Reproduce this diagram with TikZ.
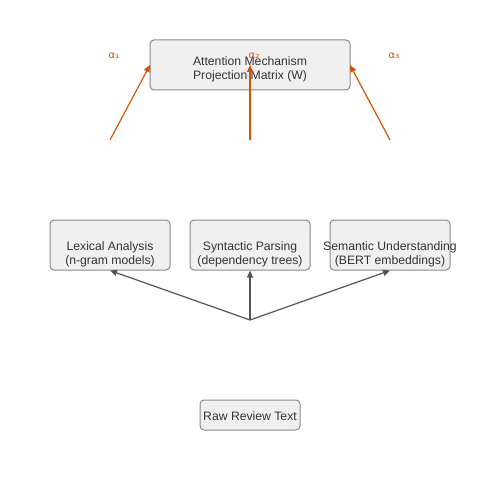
\documentclass[tikz,border=0pt]{standalone}
\usepackage{fontspec}
\setmainfont{Liberation Sans}
\newfontfamily\lblfont{DejaVu Sans}
\usetikzlibrary{arrows.meta}
\definecolor{boxfill}{HTML}{F0F0F0}
\definecolor{boxline}{HTML}{8A8A8A}
\definecolor{txt}{HTML}{333333}
\definecolor{arr}{HTML}{555555}
\definecolor{orng}{HTML}{D35400}
\tikzset{
  box/.style={draw=boxline, fill=boxfill, rounded corners=4pt, line width=1pt, inner sep=0pt},
  boxtext/.style={text=txt, font=\fontsize{12.2}{14}\selectfont, align=center, inner sep=0pt},
  grayarrow/.style={draw=arr, line width=1.2pt, -{Triangle[length=7pt,width=6pt]}},
  orngarrow/.style={draw=orng, line width=1.2pt, -{Triangle[length=7pt,width=6pt]}},
  alab/.style={text=orng, font=\lblfont\fontsize{10}{11}\selectfont, inner sep=0pt},
}
\newcommand{\zw}[1]{\makebox[0pt][c]{#1}}
\begin{document}
\begin{tikzpicture}[x=1pt,y=-1pt]
\useasboundingbox (0,0) rectangle (500,500);
% boxes
\node[box, minimum width=200pt, minimum height=50pt] (attn) at (250,65) {};
\node[box, minimum width=120pt, minimum height=50pt] (lex) at (110,245) {};
\node[box, minimum width=120pt, minimum height=50pt] (syn) at (250,245) {};
\node[box, minimum width=120pt, minimum height=50pt] (sem) at (390,245) {};
\node[box, minimum width=100pt, minimum height=30pt] (raw) at (250,415) {};
% box texts
\node[boxtext] (attnt) at (250,69) {Attention Mechanism\\Projection Matrix (W)};
\node[boxtext] (lext) at (110,254) {\zw{Lexical Analysis}\\\zw{(n-gram models)}};
\node[boxtext] (synt) at (250,254) {\zw{Syntactic Parsing}\\\zw{(dependency trees)}};
\node[boxtext] (semt) at (390,254) {\zw{Semantic Understanding}\\\zw{(BERT embeddings)}};
\node[boxtext] (rawt) at (250,416) {Raw Review Text};
% coordinates
\coordinate (hub) at (250,320);
\coordinate (o1) at (110,140);
\coordinate (o2) at (250,140);
\coordinate (o3) at (390,140);
\coordinate (t1) at (150,65);
\coordinate (t2) at (250,65);
\coordinate (t3) at (350,65);
% gray arrows
\draw[grayarrow] (hub) -- (lex.south);
\draw[grayarrow] (hub) -- (syn.south);
\draw[grayarrow] (hub) -- (sem.south);
% orange arrows
\draw[orngarrow] (o1) -- (t1);
\draw[orngarrow] (o2) -- (t2);
\draw[orngarrow] (o3) -- (t3);
% labels
\node[alab] (a1) at (114,56) {α₁};
\node[alab] (a2) at (254,56) {α₂};
\node[alab] (a3) at (394,56) {α₃};
\end{tikzpicture}
\end{document}
